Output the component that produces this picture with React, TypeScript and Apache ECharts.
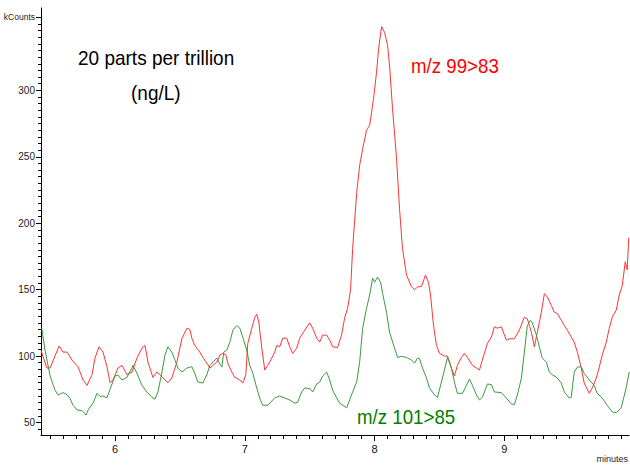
import React, { useEffect, useRef } from "react";
import * as echarts from "echarts";

// Retention time (minutes) and intensity (kCounts) for m/z 99>83 (red)
const redTime = [
  5.431, 5.475, 5.5, 5.569, 5.6, 5.631, 5.669, 5.715, 5.754, 5.785, 5.823, 5.846, 5.877, 5.908, 5.938, 5.962, 5.985,
  6.023, 6.054, 6.092, 6.131, 6.169, 6.208, 6.231, 6.254, 6.292, 6.323, 6.346, 6.385, 6.408, 6.438, 6.477, 6.515,
  6.554, 6.577, 6.592, 6.615, 6.654, 6.677, 6.708, 6.731, 6.754, 6.785, 6.808, 6.831, 6.854, 6.869, 6.9, 6.923,
  6.962, 6.985, 7.008, 7.023, 7.054, 7.077, 7.092, 7.108, 7.131, 7.154, 7.177, 7.208, 7.231, 7.246, 7.269, 7.292,
  7.323, 7.346, 7.369, 7.4, 7.423, 7.462, 7.5, 7.523, 7.554, 7.577, 7.6, 7.631, 7.654, 7.677, 7.715, 7.746, 7.769,
  7.792, 7.815, 7.831, 7.862, 7.885, 7.908, 7.938, 7.962, 7.977, 7.992, 8.015, 8.031, 8.054, 8.077, 8.1, 8.115,
  8.138, 8.169, 8.192, 8.215, 8.246, 8.285, 8.308, 8.331, 8.362, 8.392, 8.415, 8.431, 8.454, 8.477, 8.5, 8.538,
  8.562, 8.592, 8.615, 8.638, 8.669, 8.692, 8.715, 8.754, 8.785, 8.808, 8.823, 8.846, 8.869, 8.9, 8.923, 8.946,
  8.977, 9.015, 9.038, 9.077, 9.115, 9.154, 9.177, 9.208, 9.231, 9.254, 9.285, 9.308, 9.331, 9.362, 9.385, 9.408,
  9.438, 9.462, 9.485, 9.515, 9.538, 9.562, 9.592, 9.615, 9.654, 9.677, 9.708, 9.731, 9.754, 9.785, 9.808, 9.831,
  9.862, 9.885, 9.908, 9.931, 9.946, 9.958,
];
const redValue = [
  104, 91, 91, 107.5, 103, 103, 97, 92, 82, 78, 86, 98.5, 107, 103, 92, 80, 82,
  91, 93, 86, 88, 98.5, 106, 108, 95.5, 84, 88, 86, 82, 80, 83.5, 95.5, 113,
  121, 120, 113.5, 108, 103, 99, 94.7, 91, 93, 95.5, 100.8, 102, 101, 94.7, 88, 84,
  82, 79.7, 86, 109.5, 121, 129, 131.5, 125.6, 106, 89.5, 93, 98.5, 103, 108, 107, 113.5,
  113.5, 107, 102, 106, 113.5, 119.5, 125, 121, 113.5, 110.5, 115.8, 115.8, 112, 107, 106.5, 116, 128.5,
  136, 150, 181, 223, 243.6, 256, 270, 273.7, 283.5, 294, 313.5, 331.6, 348, 343.6, 334, 319,
  286.5, 249, 211, 181, 161, 152, 150, 152, 152.5, 161, 155.6, 146, 123, 108, 102, 100,
  100, 91, 85, 93, 99, 102, 99, 93, 91, 89.5, 94.7, 102, 109.7, 114.3, 122, 121,
  122, 112, 113, 113, 119.5, 129.3, 128, 118, 107, 118, 133, 147, 144.5, 138, 133, 132,
  127, 123, 119.5, 114.3, 110.5, 103, 91, 79.7, 72, 76, 83.5, 91.7, 100.8, 110.5, 121, 129.3,
  134.6, 146, 153, 171, 165, 189,
];

// Retention time (minutes) and intensity (kCounts) for m/z 101>85 (green)
const greenTime = [
  5.436, 5.462, 5.5, 5.538, 5.562, 5.6, 5.631, 5.654, 5.677, 5.708, 5.746, 5.777, 5.792, 5.831, 5.862, 5.885, 5.908,
  5.938, 5.962, 6.0, 6.023, 6.054, 6.092, 6.131, 6.138, 6.169, 6.208, 6.246, 6.285, 6.308, 6.331, 6.362, 6.385,
  6.408, 6.438, 6.462, 6.485, 6.515, 6.554, 6.577, 6.592, 6.615, 6.638, 6.677, 6.708, 6.731, 6.754, 6.785, 6.8,
  6.823, 6.838, 6.862, 6.885, 6.908, 6.938, 6.962, 6.985, 7.015, 7.038, 7.062, 7.092, 7.115, 7.138, 7.177, 7.2,
  7.231, 7.269, 7.308, 7.346, 7.385, 7.408, 7.438, 7.462, 7.5, 7.523, 7.554, 7.577, 7.6, 7.631, 7.654, 7.677,
  7.708, 7.731, 7.785, 7.808, 7.831, 7.862, 7.885, 7.908, 7.938, 7.962, 7.985, 8.0, 8.023, 8.046, 8.062, 8.092,
  8.115, 8.154, 8.177, 8.208, 8.246, 8.285, 8.308, 8.331, 8.346, 8.369, 8.4, 8.423, 8.462, 8.485, 8.515, 8.538,
  8.562, 8.592, 8.615, 8.638, 8.677, 8.708, 8.731, 8.754, 8.785, 8.808, 8.831, 8.869, 8.9, 8.923, 8.977, 9.015,
  9.054, 9.077, 9.1, 9.131, 9.154, 9.177, 9.2, 9.215, 9.246, 9.269, 9.292, 9.323, 9.346, 9.369, 9.408, 9.438,
  9.462, 9.5, 9.515, 9.538, 9.562, 9.592, 9.615, 9.654, 9.692, 9.715, 9.754, 9.792, 9.831, 9.862, 9.9, 9.938,
  9.962,
];
const greenValue = [
  121, 104, 85, 74.4, 70.7, 72.5, 71, 68, 63, 59.4, 59, 55.6, 59.4, 64.6, 72, 69.5, 70,
  68.4, 75, 85, 85.7, 82, 84, 91, 93, 87, 78, 73, 69, 67.6, 73, 88, 100.8,
  107, 103, 97, 91, 88, 91, 91.7, 92, 87, 80.5, 79.7, 86, 93, 95.5, 98.5, 95.5,
  91.7, 103, 104.5, 110.5, 119.5, 123, 121, 114, 104.5, 93, 87, 76, 68.4, 63, 63, 65.4,
  68.4, 70, 68.4, 67, 64.6, 65.4, 73, 76, 75.5, 73, 79, 80.5, 85, 88, 82, 74.4,
  68.5, 64.6, 61, 67, 73, 80.5, 95.5, 121, 136, 146, 158.6, 155.6, 159.4, 155.6, 147, 133,
  118, 106, 99, 99.8, 99, 97, 94.7, 98.5, 98, 91, 83.5, 76, 70.7, 69, 80.5, 89.5,
  99, 91, 80.5, 72, 72, 78, 82.7, 78, 70.7, 67, 69, 79, 78.5, 73, 72.5, 68.4,
  64, 63.5, 70.7, 83.5, 103, 123, 127, 125, 116, 107, 98.5, 95.5, 88, 86, 83.5, 79.7,
  73, 68.4, 69, 88, 91.7, 92, 87, 82, 78, 72, 68.4, 63, 58, 57.4, 61, 76,
  88,
];

// Axis tick labels
const xLabelValues = [6, 7, 8, 9];
const yLabelValues = [50, 100, 150, 200, 250, 300, 355];
const yUnitValue = 355;

const xMinor: number[] = [];
for (let i = 55; i <= 99; i++) xMinor.push(i / 10);
const yMinor: number[] = [];
for (let v = 45; v <= 355; v += 5) yMinor.push(v);

const X_MIN = 5.43;
const X_MAX = 9.96;
const Y_MIN = 40.6;
const Y_MAX = 362;

export default function App() {
  const ref = useRef<HTMLDivElement>(null);

  useEffect(() => {
    if (!ref.current) return;
    const chart = echarts.init(ref.current, undefined, { renderer: "svg" });
    const font = "Liberation Sans, Arial, sans-serif";
    const red = redTime.map((t, i) => [t, redValue[i]]);
    const green = greenTime.map((t, i) => [t, greenValue[i]]);

    chart.setOption({
      animation: false,
      backgroundColor: "#ffffff",
      grid: { left: 41, right: 1, top: 8, bottom: 31, containLabel: false },
      xAxis: [
        {
          type: "value",
          min: X_MIN,
          max: X_MAX,
          position: "bottom",
          axisLine: { show: true, lineStyle: { color: "#000", width: 1 } },
          axisTick: { show: true, customValues: xLabelValues, length: 6, lineStyle: { color: "#000" } },
          axisLabel: {
            show: true,
            customValues: xLabelValues,
            margin: 8,
            color: "#111",
            fontSize: 11,
            fontFamily: font,
          },
          splitLine: { show: false },
        },
        {
          type: "value",
          min: X_MIN,
          max: X_MAX,
          position: "bottom",
          axisLine: { show: false },
          axisTick: { show: true, customValues: xMinor, length: 4, lineStyle: { color: "#000" } },
          axisLabel: { show: false },
          splitLine: { show: false },
        },
      ],
      yAxis: [
        {
          type: "value",
          min: Y_MIN,
          max: Y_MAX,
          position: "left",
          axisLine: { show: true, lineStyle: { color: "#000", width: 1 } },
          axisTick: { show: true, customValues: yLabelValues, length: 5, lineStyle: { color: "#000" } },
          axisLabel: {
            show: true,
            customValues: yLabelValues,
            margin: 6,
            color: "#222",
            fontSize: 10,
            fontFamily: font,
            formatter: (v: number) => (v === yUnitValue ? "{u|kCounts}" : String(v)),
            rich: { u: { fontSize: 8.5, fontFamily: font, color: "#222" } },
          },
          splitLine: { show: false },
        },
        {
          type: "value",
          min: Y_MIN,
          max: Y_MAX,
          position: "left",
          axisLine: { show: false },
          axisTick: { show: true, customValues: yMinor, length: 3, lineStyle: { color: "#000" } },
          axisLabel: { show: false },
          splitLine: { show: false },
        },
      ],
      series: [
        {
          name: "m/z 99>83",
          type: "line",
          data: red,
          showSymbol: false,
          smooth: false,
          clip: true,
          lineStyle: { color: "#ff3333", width: 1 },
          itemStyle: { color: "#ff3333" },
          z: 2,
        },
        {
          name: "m/z 101>85",
          type: "line",
          data: green,
          showSymbol: false,
          smooth: false,
          clip: true,
          lineStyle: { color: "#3a9a3f", width: 1 },
          itemStyle: { color: "#3a9a3f" },
          z: 3,
        },
      ],
      graphic: [
        {
          type: "text",
          x: 78,
          y: 58,
          scaleX: 0.95,
          style: { text: "20 parts per trillion", fontSize: 20, fontFamily: font, fill: "#000", textVerticalAlign: "middle", textAlign: "left" },
        },
        {
          type: "text",
          x: 131,
          y: 93,
          scaleX: 0.95,
          style: { text: "(ng/L)", fontSize: 20, fontFamily: font, fill: "#000", textVerticalAlign: "middle", textAlign: "left" },
        },
        {
          type: "text",
          x: 411,
          y: 66,
          scaleX: 0.935,
          style: { text: "m/z 99>83", fontSize: 20, fontFamily: font, fill: "#ff0000", textVerticalAlign: "middle", textAlign: "left" },
        },
        {
          type: "text",
          x: 357,
          y: 417,
          scaleX: 0.935,
          style: { text: "m/z 101>85", fontSize: 20, fontFamily: font, fill: "#008000", textVerticalAlign: "middle", textAlign: "left" },
        },
        {
          type: "text",
          x: 628,
          y: 459,
          style: { text: "minutes", fontSize: 9, fontFamily: font, fill: "#222", textVerticalAlign: "middle", textAlign: "right" },
        },
      ],
    });

    return () => chart.dispose();
  }, []);

  return <div ref={ref} style={{ position: "absolute", left: 0, top: 0, width: 630, height: 466 }} />;
}
